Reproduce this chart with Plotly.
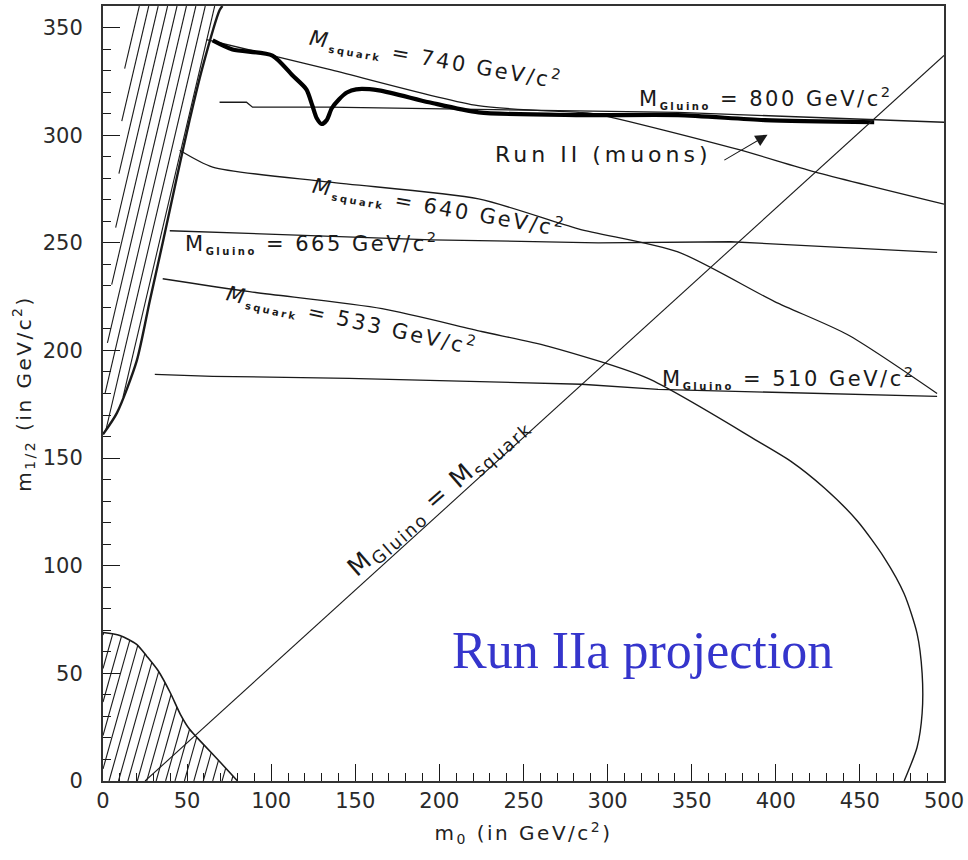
import numpy as np
import plotly.graph_objects as go

# ---------------- data ----------------
# excluded region at top-left (horn): left and right boundaries
hornL_x = [0, 2.4, 5.3, 8.3, 13, 19]
hornL_y = [161, 201, 232, 266, 333, 360]
hornR_x = [0, 8.3, 20, 27.8, 35.5, 43.8, 51.5, 59, 69.3, 71]
hornR_y = [161, 171, 195, 223, 250, 280, 307, 331, 358, 360]

# excluded region at bottom-left
bl_x = [0, 10, 20, 26, 33, 40, 46, 51.5, 59, 70, 80]
bl_y = [69, 67.6, 63.5, 58, 51, 41, 31, 24, 17.6, 8.5, 0]

# M_squark = 740 contour
sq740_x = [61.6, 100.7, 134.5, 223, 282.6, 294, 377, 423, 500]
sq740_y = [344.4, 337, 330.6, 313.7, 310.6, 309.7, 293.5, 283, 268]

# Run II (muons) reach (thick)
run2_x = [65.2, 77, 100.7, 112.6, 120.9, 124.4, 127, 130, 133, 136, 140.4, 145, 150.5, 164, 193.7, 223.3, 282.6, 341.8, 393.4, 458.5]
run2_y = [344, 339.8, 337, 327.8, 321.3, 313.9, 308, 305.2, 307, 312.5, 316.7, 319.8, 321.3, 320.8, 315.3, 310.6, 309.3, 309.3, 307, 306]

# M_gluino = 800 contour
gl800_x = [69.3, 85.3, 88.9, 134.5, 341.8, 500]
gl800_y = [315.3, 315.3, 313, 313, 310.6, 306]

# M_squark = 640 contour
sq640_x = [45.6, 65.2, 134.5, 223.3, 282.6, 341.8, 399.3, 442.5, 495.9]
sq640_y = [293, 285.2, 278.2, 270.4, 256.5, 245.8, 222.7, 207.4, 180]

# M_gluino = 665 contour
gl665_x = [39.7, 195.5, 294.4, 373.2, 495.9]
gl665_y = [255.6, 251.4, 250, 250.5, 245.6]

# M_squark = 533 contour
sq533_x = [35.5, 87.1, 165.9, 225.1, 264.8, 324, 389.2, 408.8, 428.9, 448.5, 464.5, 476.3, 484, 487, 487, 484, 476.3]
sq533_y = [233.3, 227.3, 219.4, 208.8, 201.9, 187, 157.9, 148.6, 136.1, 120.8, 103.7, 87, 68.5, 50, 31.5, 15.7, 0]

# M_gluino = 510 contour
gl510_x = [30.8, 65.2, 146.3, 284.4, 330, 495.9]
gl510_y = [188.9, 188, 187, 184.3, 181.9, 178.7]

# M_gluino = M_squark line
diag_x = [25, 500]
diag_y = [0, 337]

# ---------------- helpers ----------------
def hatch_lines(starts, k, ylo, yhi, inside, ref_y):
    ys = np.linspace(ylo, yhi, 2000)
    hx, hy = [], []
    for c in starts:
        xs = c + k * (ys - ref_y)
        m = inside(xs, ys)
        if m.any():
            idx = np.where(m)[0]
            hx += [xs[idx[0]], xs[idx[-1]], None]
            hy += [ys[idx[0]], ys[idx[-1]], None]
    return hx, hy

def in_bl(x, y):
    return (x >= 0) & (x <= bl_x[-1]) & (y >= 0) & (y <= np.interp(x, bl_x, bl_y))

def in_horn(x, y):
    return ((y >= hornL_y[0]) & (y <= 360) &
            (x >= np.interp(y, hornL_y, hornL_x)) & (x <= np.interp(y, hornR_y, hornR_x)))

blk = "#1a1a1a"
fig = go.Figure()

def line(x, y, w=1.3, color=blk, shape="linear"):
    ln = dict(color=color, width=w, shape=shape)
    if shape == "spline":
        ln["smoothing"] = 0.7
    fig.add_trace(go.Scatter(x=x, y=y, mode="lines", line=ln,
                             hoverinfo="skip", showlegend=False))

# hatching
hx, hy = hatch_lines(np.arange(-30, 85, 5.6), 0.36, 0, 75, in_bl, 0)
line(hx, hy, 1.1)
hx2, hy2 = hatch_lines(np.arange(16, 72, 5.6), 0.30, 150, 360, in_horn, 360)
line(hx2, hy2, 1.1)

line(bl_x, bl_y, 1.6, shape="spline")
line(hornR_x, hornR_y, 2.4, shape="spline")
line(sq740_x, sq740_y, shape="spline")
line(gl800_x, gl800_y)
line(run2_x, run2_y, 4.2, "#000000", shape="spline")
line(sq640_x, sq640_y, shape="spline")
line(gl665_x, gl665_y)
line(sq533_x, sq533_y, 1.4, shape="spline")
line(gl510_x, gl510_y)
line(diag_x, diag_y, 1.1)

# ---------------- text ----------------
FONT = "DejaVu Sans"
LS = "letter-spacing:2.5px"

def sub(s, size=10):
    return f"<sub><span style='font-size:{size}px;font-weight:bold'>{s}</span></sub>"

def lbl(m, name, val):
    return f"<span style='{LS}'>{m}{sub(name)} = {val} GeV/c<sup>2</sup></span>"

labels = [
    (198, 335.5, lbl("<i>M</i>", "squark", 740), 10),
    (394, 317.6, lbl("M", "Gluino", 800), 0),
    (200, 266.7, lbl("<i>M</i>", "squark", 640), 10),
    (124, 250.0, lbl("M", "Gluino", 665), 0),
    (148, 214.4, lbl("<i>M</i>", "squark", 533), 12.5),
    (408, 187.5, lbl("M", "Gluino", 510), 0),
]
for x, y, t, ang in labels:
    fig.add_annotation(x=x, y=y, text=t, showarrow=False, textangle=ang,
                       font=dict(family=FONT, size=21, color=blk),
                       xanchor="center", yanchor="middle")

fig.add_annotation(x=199.6, y=132, textangle=-41, showarrow=False,
                   text="<span style='letter-spacing:2px'>M<sub>Gluino</sub> = M<sub>squark</sub></span>",
                   font=dict(family=FONT, size=25, color=blk))

fig.add_annotation(x=297.4, y=291.2, showarrow=False,
                   text="<span style='letter-spacing:4px'>Run II (muons)</span>",
                   font=dict(family=FONT, size=22, color=blk))
fig.add_annotation(x=395.1, y=300.2, ax=368.5, ay=288, axref="x", ayref="y", text="",
                   showarrow=True, arrowhead=2, arrowsize=2.2, arrowwidth=1.1, arrowcolor=blk)

fig.add_annotation(x=320.5, y=60.5, showarrow=False, text="Run IIa projection",
                   font=dict(family="Liberation Serif", size=52, color="#3535cc"))

# ---------------- layout ----------------
axis_common = dict(
    showgrid=False, zeroline=False, showline=True, linecolor="#333333", linewidth=2,
    mirror=True, ticks="inside", ticklen=17, tickwidth=1.4, tickcolor=blk,
    tickfont=dict(family=FONT, size=21, color="#2a2a2a"),
)
fig.update_layout(
    width=968, height=860,
    margin=dict(l=103, r=21, t=4, b=79),
    paper_bgcolor="white", plot_bgcolor="white",
    xaxis=dict(range=[0, 500], tick0=0, dtick=50,
               minor=dict(dtick=10, ticks="inside", ticklen=8, tickwidth=1.2, tickcolor=blk),
               title=dict(text=f"<span style='{LS}'>m<sub>0</sub> (in GeV/c<sup>2</sup>)</span>",
                          font=dict(family=FONT, size=20, color="#222222"), standoff=14),
               **axis_common),
    yaxis=dict(range=[0, 360], tick0=0, dtick=50, ticklabelstandoff=14,
               minor=dict(dtick=10, ticks="inside", ticklen=8, tickwidth=1.2, tickcolor=blk),
               title=dict(text=f"<span style='{LS}'>m<sub>1/2</sub> (in GeV/c<sup>2</sup>)</span>",
                          font=dict(family=FONT, size=20, color="#222222"), standoff=6),
               **axis_common),
)

fig.write_html("out.html")
